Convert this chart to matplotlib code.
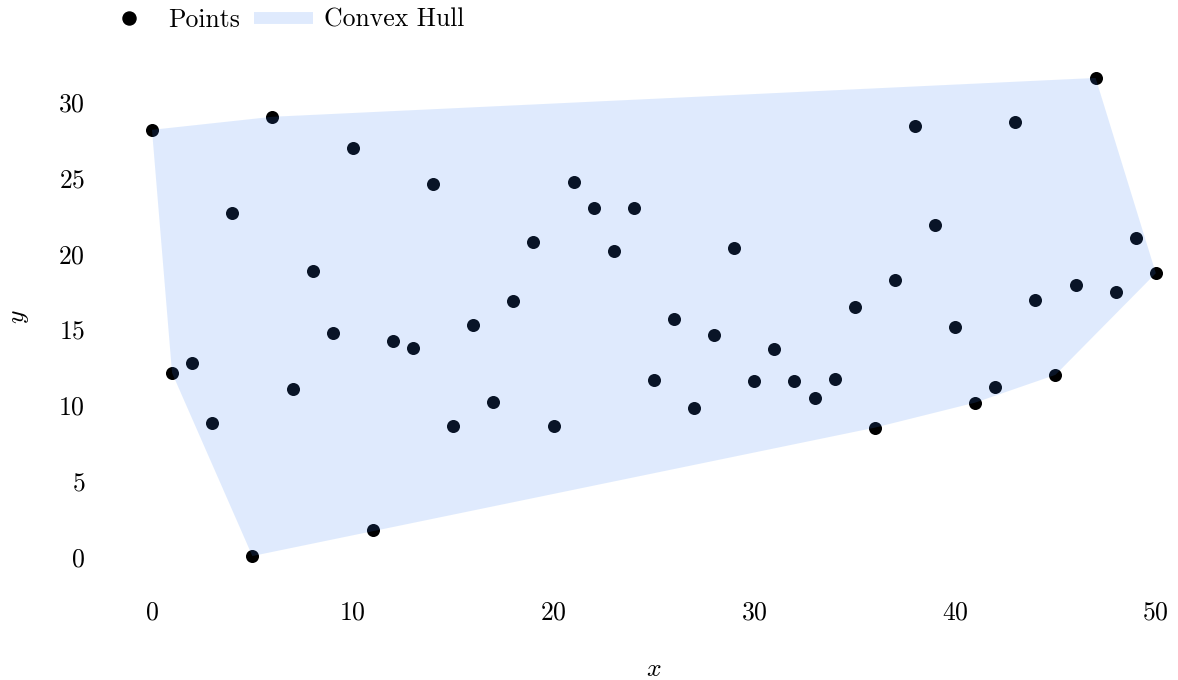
import numpy as np
import matplotlib.pyplot as plt
from matplotlib.lines import Line2D

plt.rcParams['font.family'] = 'serif'
plt.rcParams['font.serif'] = ['cmr10']
plt.rcParams['mathtext.fontset'] = 'cm'
plt.rcParams['axes.formatter.use_mathtext'] = True
plt.rcParams['font.size'] = 18.5

# point cloud
xs = list(range(51))
ys = [28.16, 12.14, 12.8, 8.86, 22.71, 0.07, 29.02, 11.09, 18.84, 14.77,
      26.98, 1.77, 14.25, 13.79, 24.62, 8.67, 15.30, 10.24, 16.87, 20.74,
      8.67, 24.75, 23.04, 20.15, 23.04, 11.69, 15.69, 9.85, 14.64, 20.35,
      11.62, 13.72, 11.62, 10.50, 11.75, 16.48, 8.53, 18.25, 28.43, 21.86,
      15.16, 10.18, 11.23, 28.69, 16.94, 12.01, 17.92, 31.58, 17.46, 21.01,
      18.71]

hull_color = '#3b82f6'
hull_alpha = 0.16


def convex_hull(pts):
    # monotone chain
    pts = sorted(set(pts))

    def cross(o, a, b):
        return (a[0] - o[0]) * (b[1] - o[1]) - (a[1] - o[1]) * (b[0] - o[0])

    lower = []
    for p in pts:
        while len(lower) >= 2 and cross(lower[-2], lower[-1], p) <= 0:
            lower.pop()
        lower.append(p)
    upper = []
    for p in reversed(pts):
        while len(upper) >= 2 and cross(upper[-2], upper[-1], p) <= 0:
            upper.pop()
        upper.append(p)
    return lower[:-1] + upper[:-1]


hull = np.array(convex_hull(list(zip(xs, ys))))

fig = plt.figure(figsize=(11.78, 6.8), dpi=100)
ax = fig.add_axes([0.0864, 0.1456, 0.9374, 0.7765])

ax.scatter(xs, ys, s=88, color='black', linewidths=0, zorder=2)
ax.fill(hull[:, 0], hull[:, 1], color=hull_color, alpha=hull_alpha,
        linewidth=0, zorder=3)

ax.set_xlim(-2.5, 52.5)
ax.set_ylim(-1.5755, 33.2255)
ax.set_xticks([0, 10, 20, 30, 40, 50])
ax.set_yticks([0, 5, 10, 15, 20, 25, 30])
for s in ax.spines.values():
    s.set_visible(False)
ax.tick_params(length=0, pad=12)
ax.tick_params(axis='x', pad=14)

ax.set_xlabel('$x$', labelpad=24)
ax.set_ylabel('$y$', labelpad=20)

handles = [
    Line2D([], [], marker='o', color='black', linestyle='none', markersize=9.4),
    Line2D([], [], color=hull_color, alpha=hull_alpha, linewidth=8.6,
           solid_capstyle='butt'),
]
fig.legend(handles, ['Points', 'Convex Hull'], loc='center left',
           bbox_to_anchor=(0.084, 0.9706), ncol=2, frameon=False,
           borderpad=0, borderaxespad=0, handlelength=2.3, handletextpad=0.4,
           columnspacing=0.55)

fig.savefig('out.png', dpi=100)
